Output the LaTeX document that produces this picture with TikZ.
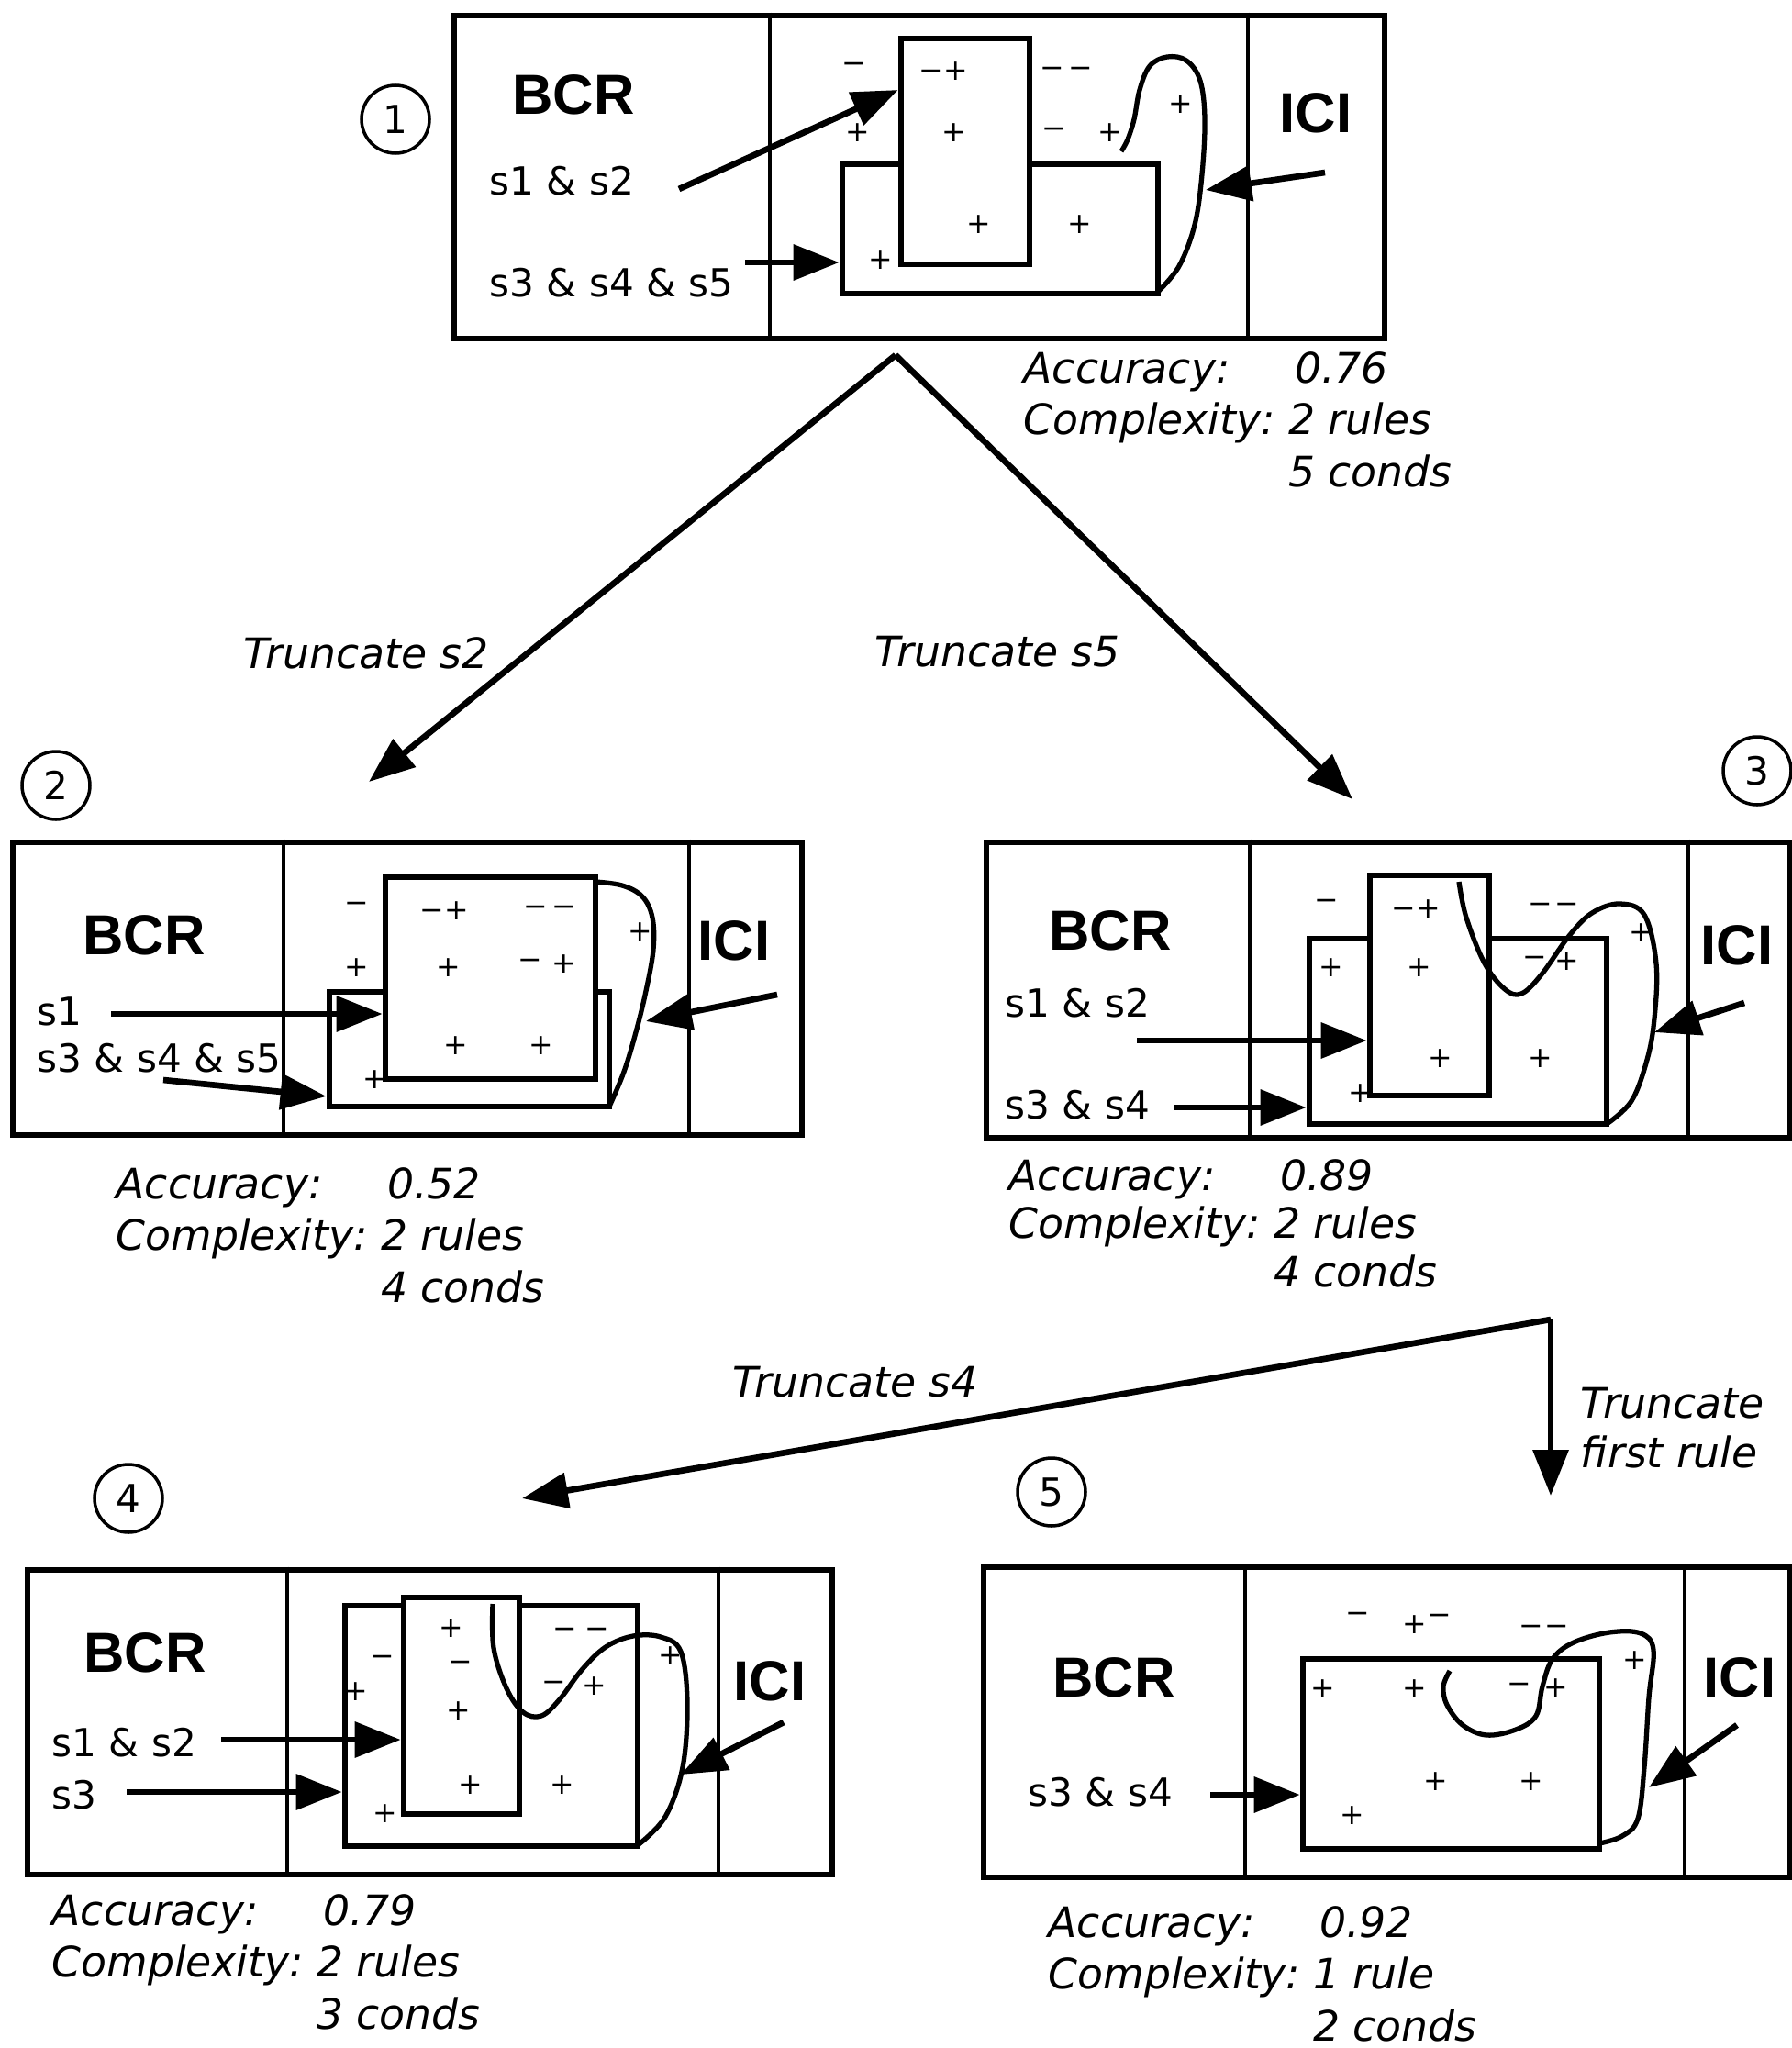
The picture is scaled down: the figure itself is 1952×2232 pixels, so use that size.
\documentclass[tikz,border=0pt]{standalone}
\usepackage{fontspec}
\setmainfont{DejaVu Sans}[ItalicFont={DejaVu Sans Oblique}, BoldFont={DejaVu Sans Bold}]
\newfontfamily\headfont{Liberation Sans}
\usepackage{tikz}
\usetikzlibrary{arrows.meta, positioning, fit, calc}
\tikzstyle{panel} = [rectangle, draw=black, line width=1.9pt, inner sep=0pt]
\tikzstyle{rulebox} = [rectangle, draw=black, line width=1.9pt, inner sep=0pt]
\tikzstyle{divider} = [line width=1.4pt]
\tikzstyle{head} = [inner sep=0pt, font=\headfont\bfseries\fontsize{17.5}{20}\selectfont]
\tikzstyle{cond} = [anchor=west, inner sep=0pt, font=\fontsize{12}{14}\selectfont]
\tikzstyle{sign} = [inner sep=0pt, font=\fontsize{9}{10}\selectfont]
\tikzstyle{stat} = [anchor=base west, inner sep=0pt, font=\itshape\fontsize{13}{16.2}\selectfont]
\tikzstyle{trunc} = [inner sep=0pt, align=left, font=\itshape\fontsize{13}{15.4}\selectfont]
\tikzstyle{num} = [circle, draw=black, line width=1pt, minimum size=7.4mm, inner sep=0pt, font=\fontsize{12}{14}\selectfont]
\tikzstyle{arrow} = [line width=1.9pt, -{Triangle[length=5mm, width=3.8mm]}]
\tikzstyle{curve} = [line width=1.5pt, line join=round]

\begin{document}
\begin{tikzpicture}[x=0.1mm, y=-0.1mm]
    \useasboundingbox (0,0) rectangle (1952,2232);

    % Panel 1
    \node (n1) [num] at (431,130) {1};
    \node (p1) [panel, fit={(495,17) (1509,369)}] {};
    \draw [divider] (p1.north -| 839,0) -- (p1.south -| 839,0);
    \draw [divider] (p1.north -| 1360,0) -- (p1.south -| 1360,0);
    \node (bcr1) [head] at (625,103) {BCR};
    \node (ici1) [head] at (1434,123) {ICI};
    \node (c1a) [cond] at (533,197) {s1 \& s2};
    \node (c1b) [cond] at (533,308) {s3 \& s4 \& s5};
    \node (r1b) [rulebox, fit={(918,179) (1262,320)}] {};
    \node (r1a) [rulebox, fill=white, fit={(982,42) (1122,288)}] {};
    \draw [curve] plot[smooth, tension=0.6] coordinates {(1262,318) (1285,290) (1302,245) (1310,190) (1313,130) (1308,88) (1293,66) (1272,62) (1253,72) (1242,98) (1236,130) (1229,152) (1222,165)};
    \foreach \x/\y/\s [count=\i] in {931/74/−, 1028/78/−+, 1147/79/−, 1178/79/−, 935/145/+, 1040/145/+, 1149/145/−, 1210/145/+, 1287/114/+, 1067/245/+, 1177/245/+, 960/284/+}
        \node (sa\i) [sign] at (\x,\y) {\s};
    \node (st1) [stat] at (1115,417) {\begin{tabular}[t]{@{}l@{\hspace{4pt}}l@{}}Accuracy: & \hspace{2pt}0.76\\ Complexity: & 2 rules\\ & 5 conds\end{tabular}};

    % Panel 2
    \node (n2) [num] at (61,856) {2};
    \node (p2) [panel, fit={(14,918) (874,1237)}] {};
    \draw [divider] (p2.north -| 309,0) -- (p2.south -| 309,0);
    \draw [divider] (p2.north -| 751,0) -- (p2.south -| 751,0);
    \node (bcr2) [head] at (157,1019) {BCR};
    \node (ici2) [head] at (800,1025) {ICI};
    \node (c2a) [cond] at (40,1102) {s1};
    \node (c2b) [cond] at (40,1153) {s3 \& s4 \& s5};
    \node (r2b) [rulebox, fit={(359,1081) (664,1206)}] {};
    \node (r2a) [rulebox, fill=white, fit={(420,956) (649,1176)}] {};
    \draw [curve] plot[smooth, tension=0.6] coordinates {(664,1206) (680,1168) (693,1125) (704,1080) (712,1035) (711,1000) (700,977) (678,965) (649,961)};
    \foreach \x/\y/\s [count=\i] in {389/989/−, 484/993/−+, 584/993/−, 615/993/−, 698/1016/+, 389/1055/+, 489/1055/+, 578/1051/−, 615/1051/+, 497/1140/+, 590/1140/+, 409/1177/+}
        \node (sb\i) [sign] at (\x,\y) {\s};
    \node (st2) [stat] at (126,1306) {\begin{tabular}[t]{@{}l@{\hspace{4pt}}l@{}}Accuracy: & \hspace{2pt}0.52\\ Complexity: & 2 rules\\ & 4 conds\end{tabular}};

    % Panel 3
    \node (n3) [num] at (1915,840) {3};
    \node (p3) [panel, fit={(1075,918) (1951,1240)}] {};
    \draw [divider] (p3.north -| 1362,0) -- (p3.south -| 1362,0);
    \draw [divider] (p3.north -| 1840,0) -- (p3.south -| 1840,0);
    \node (bcr3) [head] at (1210,1014) {BCR};
    \node (ici3) [head] at (1893,1030) {ICI};
    \node (c3a) [cond] at (1095,1093) {s1 \& s2};
    \node (c3b) [cond] at (1095,1204) {s3 \& s4};
    \node (r3b) [rulebox, fit={(1427,1023) (1751,1225)}] {};
    \node (r3a) [rulebox, fill=white, fit={(1493,954) (1623,1194)}] {};
    \draw [curve] plot[smooth, tension=0.6] coordinates {(1590,961) (1598,1000) (1618,1050) (1640,1078) (1658,1083) (1680,1062) (1710,1020) (1735,995) (1765,985) (1792,997) (1805,1050) (1803,1110) (1795,1155) (1778,1200) (1751,1225)};
    \foreach \x/\y/\s [count=\i] in {1446/986/−, 1543/991/−+, 1679/990/−, 1708/990/−, 1789/1017/+, 1451/1055/+, 1547/1055/+, 1673/1048/−, 1708/1048/+, 1570/1154/+, 1679/1154/+, 1483/1192/+}
        \node (sc\i) [sign] at (\x,\y) {\s};
    \node (st3) [stat, font=\itshape\fontsize{13}{15}\selectfont] at (1099,1297) {\begin{tabular}[t]{@{}l@{\hspace{4pt}}l@{}}Accuracy: & \hspace{2pt}0.89\\ Complexity: & 2 rules\\ & 4 conds\end{tabular}};

    % Panel 4
    \node (n4) [num] at (140,1633) {4};
    \node (p4) [panel, fit={(30,1711) (907,2043)}] {};
    \draw [divider] (p4.north -| 313,0) -- (p4.south -| 313,0);
    \draw [divider] (p4.north -| 783,0) -- (p4.south -| 783,0);
    \node (bcr4) [head] at (158,1801) {BCR};
    \node (ici4) [head] at (839,1832) {ICI};
    \node (c4a) [cond] at (56,1899) {s1 \& s2};
    \node (c4b) [cond] at (56,1956) {s3};
    \node (r4b) [rulebox, fit={(376,1750) (695,2012)}] {};
    \node (r4a) [rulebox, fill=white, fit={(440,1741) (566,1977)}] {};
    \draw [curve] plot[smooth, tension=0.6] coordinates {(537,1748) (538,1796) (552,1840) (570,1866) (590,1870) (610,1852) (634,1820) (660,1795) (690,1783) (720,1784) (742,1800) (749,1856) (744,1926) (725,1980) (695,2011)};
    \foreach \x/\y/\s [count=\i] in {492/1775/+, 417/1810/−, 502/1816/−, 616/1780/−, 651/1780/−, 731/1805/+, 388/1844/+, 604/1838/−, 648/1838/+, 500/1865/+, 513/1946/+, 613/1946/+, 420/1977/+}
        \node (sd\i) [sign] at (\x,\y) {\s};
    \node (st4) [stat] at (56,2098) {\begin{tabular}[t]{@{}l@{\hspace{4pt}}l@{}}Accuracy: & \hspace{2pt}0.79\\ Complexity: & 2 rules\\ & 3 conds\end{tabular}};

    % Panel 5
    \node (n5) [num] at (1146,1626) {5};
    \node (p5) [panel, fit={(1072,1708) (1951,2046)}] {};
    \draw [divider] (p5.north -| 1357,0) -- (p5.south -| 1357,0);
    \draw [divider] (p5.north -| 1836,0) -- (p5.south -| 1836,0);
    \node (bcr5) [head] at (1214,1828) {BCR};
    \node (ici5) [head] at (1896,1828) {ICI};
    \node (c5a) [cond] at (1120,1953) {s3 \& s4};
    \node (r5) [rulebox, fit={(1420,1808) (1743,2015)}] {};
    \draw [curve] plot[smooth, tension=0.6] coordinates {(1743,2009) (1768,2001) (1785,1982) (1792,1926) (1797,1850) (1802,1798) (1788,1780) (1754,1779) (1715,1790) (1692,1808) (1681,1838) (1674,1870) (1652,1885) (1620,1891) (1594,1880) (1577,1858) (1573,1838) (1580,1821)};
    \foreach \x/\y/\s [count=\i] in {1480/1763/−, 1555/1770/+\raisebox{3pt}{−}, 1669/1777/−, 1697/1777/−, 1782/1810/+, 1442/1841/+, 1542/1841/+, 1656/1840/−, 1696/1840/+, 1565/1942/+, 1669/1942/+, 1474/1979/+}
        \node (se\i) [sign] at (\x,\y) {\s};
    \node (st5) [stat] at (1142,2111) {\begin{tabular}[t]{@{}l@{\hspace{4pt}}l@{}}Accuracy: & \hspace{2pt}0.92\\ Complexity: & 1 rule\\ & 2 conds\end{tabular}};

    % Truncation labels
    \node (tr2) [trunc] at (399,712) {Truncate s2};
    \node (tr3) [trunc] at (1087,710) {Truncate s5};
    \node (tr4) [trunc] at (932,1506) {Truncate s4};
    \node (tr5) [trunc, anchor=west] at (1722,1556) {Truncate\\first rule};

    % Coordinates
    \coordinate (t1a) at (740,206);
    \coordinate (t1b) at (812,286);
    \coordinate (k1) at (1444,188);
    \coordinate (h1) at (1314,207);
    \coordinate (t2a) at (121,1105);
    \coordinate (t2b) at (178,1177);
    \coordinate (k2) at (847,1084);
    \coordinate (h2) at (704,1113);
    \coordinate (t3a) at (1239,1134);
    \coordinate (t3b) at (1279,1207);
    \coordinate (k3) at (1901,1093);
    \coordinate (h3) at (1803,1125);
    \coordinate (t4a) at (241,1896);
    \coordinate (t4b) at (138,1953);
    \coordinate (k4) at (854,1877);
    \coordinate (h4) at (742,1934);
    \coordinate (t5a) at (1319,1956);
    \coordinate (k5) at (1893,1880);
    \coordinate (h5) at (1797,1948);
    \coordinate (fork1) at (976,387);
    \coordinate (tip2) at (402,852);
    \coordinate (tip3) at (1474,871);
    \coordinate (fork3) at (1690,1438);
    \coordinate (tip4) at (569,1633);
    \coordinate (tip5) at (1690,1630);

    % Arrows
    \draw [arrow] (t1a) -- ($(r1a.north west)!0.235!(r1a.south west)$);
    \draw [arrow] (t1b) -- (r1b.west |- t1b);
    \draw [arrow] (k1) -- (h1);
    \draw [arrow] (t2a) -- (r2a.west |- t2a);
    \draw [arrow] (t2b) -- ($(r2b.north west)!0.89!(r2b.south west)$);
    \draw [arrow] (k2) -- (h2);
    \draw [arrow] (t3a) -- (r3a.west |- t3a);
    \draw [arrow] (t3b) -- (r3b.west |- t3b);
    \draw [arrow] (k3) -- (h3);
    \draw [arrow] (t4a) -- (r4a.west |- t4a);
    \draw [arrow] (t4b) -- (r4b.west |- t4b);
    \draw [arrow] (k4) -- (h4);
    \draw [arrow] (t5a) -- (r5.west |- t5a);
    \draw [arrow] (k5) -- (h5);

    \draw [arrow] (fork1) -- (tip2);
    \draw [arrow] (fork1) -- (tip3);
    \draw [arrow] (fork3) -- (tip4);
    \draw [arrow] (fork3) -- (tip5);
\end{tikzpicture}
\end{document}
